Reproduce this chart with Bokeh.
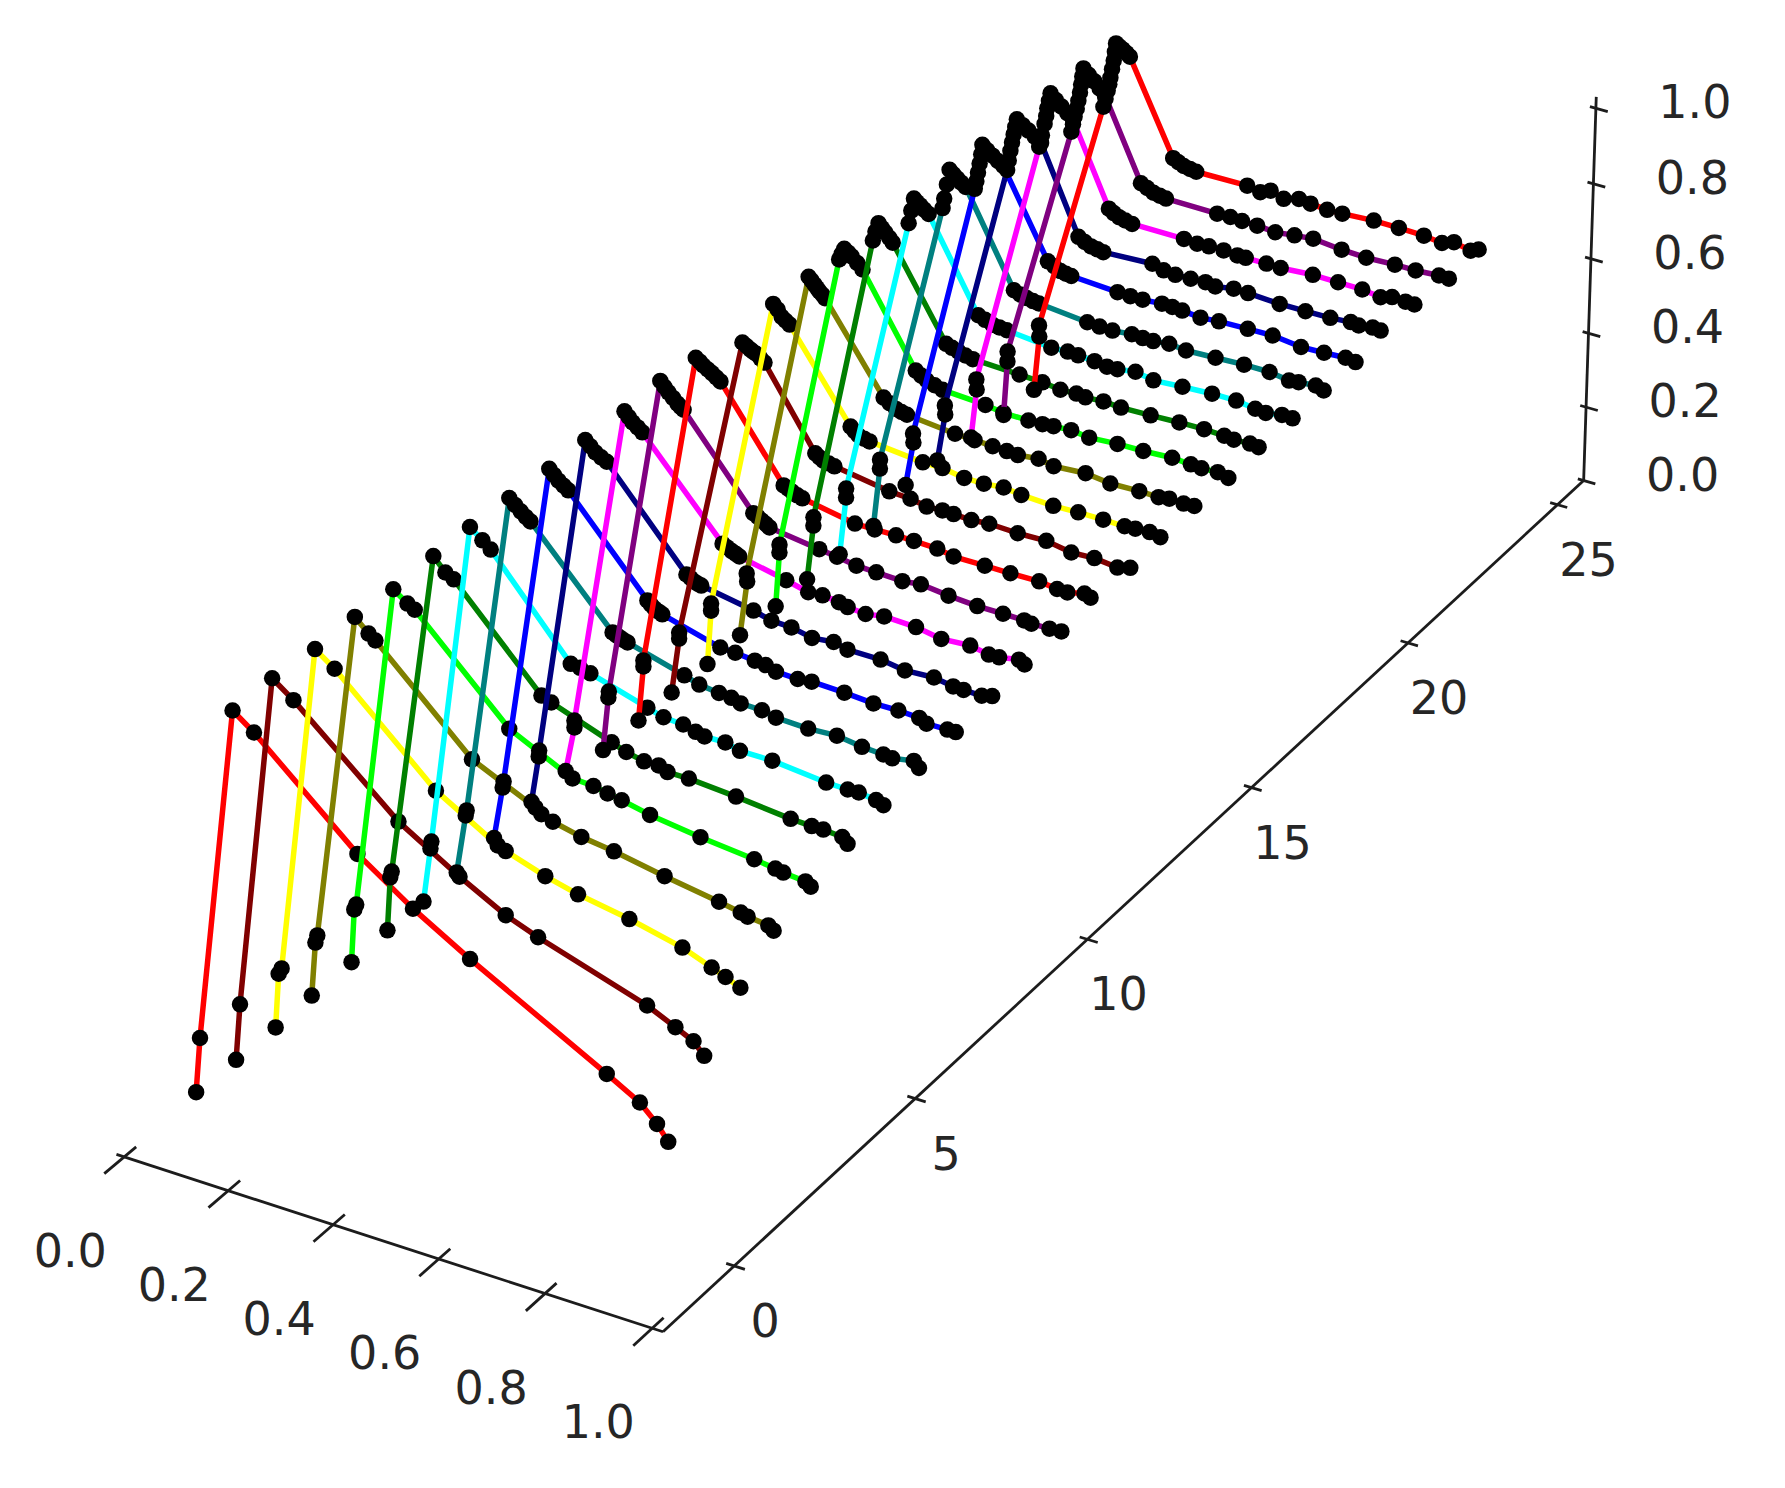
import numpy as np
from bokeh.plotting import figure
from bokeh.models import Range1d
from bokeh.core.properties import value
from bokeh.embed import file_html
from bokeh.resources import INLINE

# Axis ticks and labels
x_ticks = [0.0, 0.2, 0.4, 0.6, 0.8, 1.0]
y_ticks = [0, 5, 10, 15, 20, 25]
z_ticks = [0.0, 0.2, 0.4, 0.6, 0.8, 1.0]
x_labels = ["0.0", "0.2", "0.4", "0.6", "0.8", "1.0"]
y_labels = ["0", "5", "10", "15", "20", "25"]
z_labels = ["0.0", "0.2", "0.4", "0.6", "0.8", "1.0"]
colors = ["#ff0000", "#800000", "#ffff00", "#808000", "#00ff00", "#008000",
          "#00ffff", "#008080", "#0000ff", "#000080", "#ff00ff", "#800080"]

# Series values, in thousandths
x00 = [-6,4,81,121,314,418,525,781,843,875,896]
z00 = [2,144,992,954,733,640,559,380,335,295,259]
x01 = [-4,6,81,121,318,433,520,581,786,839,873,893]
z01 = [2,148,994,956,735,645,585,555,470,438,417,389]
x02 = [-2,6,12,88,125,316,433,448,523,585,682,782,837,863,891]
z02 = [3,144,160,992,958,732,643,635,603,583,561,531,504,491,476]
x03 = [-6,3,7,90,116,129,312,433,444,466,520,582,678,781,822,835,874,884]
z03 = [1,141,161,996,965,953,730,658,646,636,620,609,586,564,554,549,543,534]
x04 = [-2,5,9,90,117,131,311,432,472,499,526,580,676,778,818,833,875,885]
z04 = [7,146,160,989,964,954,728,652,649,641,635,620,603,589,582,578,573,564]
x05 = [-5,2,5,94,117,133,301,320,436,464,498,526,543,584,674,778,818,840,876,886]
z05 = [7,147,163,998,966,955,730,720,666,653,643,644,634,634,625,611,609,609,605,592]
x06 = [-7,8,10,92,116,132,286,304,324,434,465,503,527,544,584,612,674,777,818,839,872,886]
z06 = [0,144,163,995,971,954,727,724,718,675,663,660,651,646,647,637,637,623,622,623,617,610]
x07 = [-14,5,7,96,107,118,128,137,296,303,309,317,325,435,464,502,526,544,585,612,674,729,777,818,835,876,886]
z07 = [-7,149,163,995,982,970,960,952,734,730,727,723,720,680,668,662,659,652,651,643,640,644,635,632,629,639,625]
x08 = [-12,6,8,102,111,120,130,139,293,300,307,315,322,435,464,502,523,543,585,612,675,731,779,819,833,873,889]
z08 = [4,143,160,997,985,974,965,957,738,730,723,718,714,674,672,667,664,655,653,657,654,649,650,647,638,639,639]
x09 = [-9,6,7,101,111,121,132,143,299,307,314,321,328,430,465,504,544,586,613,677,724,780,817,837,872,892]
z09 = [21,146,162,996,984,972,964,957,731,725,719,716,714,690,678,676,665,671,662,662,653,657,649,648,647,654]
x10 = [-12,6,6,107,115,123,133,142,300,309,318,326,333,425,468,496,528,545,580,616,678,727,783,819,839,877,888]
z10 = [22,144,162,998,987,976,967,958,735,729,723,719,715,690,676,679,674,668,664,672,669,658,663,654,655,664,656]
x11 = [-8,3,4,107,115,123,132,141,147,153,291,300,308,316,323,421,456,494,533,584,620,674,730,780,821,835,870,893]
z11 = [1,144,160,1003,991,980,969,958,952,947,735,729,723,717,711,693,687,679,677,674,680,672,667,667,666,663,664,666]
x12 = [-7,3,3,107,115,122,131,139,148,156,282,291,299,309,319,423,462,504,539,585,617,678,728,784,819,839,872,884]
z12 = [2,149,165,990,983,976,969,963,955,948,729,724,719,714,710,685,685,686,685,683,675,675,675,676,670,669,679,673]
x13 = [-10,5,5,130,138,146,152,158,166,174,276,284,292,303,314,423,465,497,528,550,585,620,676,732,781,826,871,896]
z13 = [-2,147,163,966,960,954,950,947,939,931,736,729,723,720,717,694,691,683,685,684,682,686,683,685,674,677,670,679]
x14 = [-7,0,0,122,131,139,147,155,278,286,294,305,316,422,461,504,543,582,617,680,729,778,820,841,869,890]
z14 = [-2,143,162,991,980,964,957,950,733,724,716,712,709,695,695,686,686,691,685,681,683,683,682,684,686,681]
x15 = [-10,4,3,124,130,136,141,146,152,157,276,288,301,312,323,419,458,494,522,544,585,615,678,727,784,822,843,871,892]
z15 = [-2,147,168,991,983,975,968,961,955,948,735,725,715,711,708,695,693,691,689,687,693,685,691,683,685,684,688,686,688]
x16 = [-6,1,1,117,122,127,135,142,153,164,273,284,295,311,327,413,449,499,527,549,584,620,676,727,784,821,842,874,895]
z16 = [1,148,169,963,979,994,987,980,967,954,732,723,715,708,702,695,688,687,688,691,694,688,693,694,698,695,693,695,688]
x17 = [-10,2,2,117,122,128,135,142,150,157,267,279,292,306,321,415,461,497,529,547,583,618,677,734,783,823,842,874,891]
z17 = [-3,146,168,942,967,991,981,972,961,951,728,722,717,712,708,703,700,694,696,693,696,693,695,698,699,697,694,696,693]
x18 = [-11,1,1,122,127,132,138,145,153,162,265,279,294,308,323,413,446,467,500,525,546,582,618,676,735,783,821,842,874,895]
z18 = [-11,147,171,919,954,987,980,974,966,958,731,724,717,715,713,701,703,701,698,693,694,701,692,697,701,701,694,691,698,697]
x19 = [-9,3,3,124,127,132,137,145,153,161,170,271,284,297,310,322,420,445,471,510,532,553,585,619,678,735,786,825,844,878,894]
z19 = [-8,152,176,890,916,955,995,986,978,970,962,728,722,717,714,712,699,697,696,701,699,699,704,699,702,705,705,697,700,704,697]
x20 = [-10,5,4,123,126,129,132,135,137,147,158,169,180,274,287,300,311,322,416,442,467,506,527,547,584,621,679,729,786,832,875,895]
z20 = [29,150,174,871,892,916,941,966,992,981,971,961,952,735,727,719,716,714,706,705,705,709,708,706,701,705,707,708,699,701,704,700]
x21 = [-11,4,3,123,126,129,132,135,138,141,153,165,178,191,271,284,297,310,322,422,445,469,500,530,550,587,616,680,732,782,823,839,867,883]
z21 = [22,153,177,852,878,905,928,950,971,992,981,971,960,948,729,720,713,710,707,713,704,701,702,704,700,708,707,702,702,703,707,704,709,707]
x22 = [-7,3,2,123,128,133,136,138,141,144,155,167,179,191,268,278,289,302,316,422,449,473,503,531,548,590,619,684,735,784,821,844,871,889]
z22 = [13,148,175,845,877,909,931,952,973,994,980,967,954,940,733,725,718,714,710,709,706,708,708,705,705,705,704,710,709,708,701,710,708,707]
x23 = [-5,1,1,124,127,130,134,137,140,142,144,146,157,169,180,191,269,282,295,308,321,426,453,477,508,545,584,622,680,730,788,830,877,897]
z23 = [3,152,179,817,838,860,882,904,927,949,971,993,980,967,952,938,732,724,716,713,710,708,709,707,706,702,708,713,705,702,705,705,709,708]
x24 = [-7,2,1,125,129,133,136,138,141,144,146,148,155,162,170,177,271,282,293,306,319,424,451,472,499,530,554,588,619,683,734,785,822,846,880,896]
z24 = [-1,149,179,816,839,862,880,898,922,946,970,993,987,982,975,968,731,724,718,715,712,713,705,717,705,716,712,708,709,714,713,711,705,716,706,715]

series_x = [x00,x01,x02,x03,x04,x05,x06,x07,x08,x09,x10,x11,x12,x13,x14,x15,x16,x17,x18,x19,x20,x21,x22,x23,x24]
series_z = [z00,z01,z02,z03,z04,z05,z06,z07,z08,z09,z10,z11,z12,z13,z14,z15,z16,z17,z18,z19,z20,z21,z22,z23,z24]

# Camera: fitted from where the box edges and ticks sit on the canvas
YMIN, YMAX, XMAX = -1.9, 25.9, 1.02
A = [((0,YMIN,0),(126.3,1153.3)),((.2,YMIN,0),(228.2,1187.3)),((.4,YMIN,0),(335.2,1222.7)),((.6,YMIN,0),(439.8,1257.3)),((.8,YMIN,0),(546.4,1291.7)),((1,YMIN,0),(656.6,1327.7)),
((1.02,YMIN,0),(667,1332)),((1.02,0,0),(734,1269)),((1.02,5,0),(911,1102)),((1.02,10,0),(1087,943)),((1.02,15,0),(1250,791)),((1.02,20,0),(1412,644)),((1.02,25,0),(1562,503)),
((1.02,YMAX,0),(1583.3,479.3)),((1.02,YMAX,.2),(1586,406)),((1.02,YMAX,.4),(1588.3,331.7)),((1.02,YMAX,.6),(1590,256.7)),((1.02,YMAX,.8),(1592.7,181)),((1.02,YMAX,1),(1593.3,105)),
((0,0,0),(195.7,1091.8)),((0,6,0),(423.2,901.2)),((0,12,0),(638.2,720)),((0,18,0),(839.3,553.9)),((0,24,0),(1033.2,389.3)),((.1,0,1),(232.1,710.2)),((.1,24,1),(1115.4,43))]
M = []; b = []
for (x,y,z),(u,v) in A:
    M.append([x,y,z,1,0,0,0,0,-u*x,-u*y,-u*z]); b.append(u)
    M.append([0,0,0,0,x,y,z,1,-v*x,-v*y,-v*z]); b.append(v)
sol = np.linalg.lstsq(np.array(M,float), np.array(b,float), rcond=None)[0]
P = np.append(sol,1).reshape(3,4)

def proj(x, y, z):
    x, y, z = np.broadcast_arrays(np.asarray(x,float), np.asarray(y,float), np.asarray(z,float))
    h = P @ np.vstack([x.ravel(), y.ravel(), z.ravel(), np.ones(x.size)])
    return h[0]/h[2], h[1]/h[2]

W, H = 1769, 1470
p = figure(width=W, height=H, x_range=Range1d(0, W), y_range=Range1d(H, 0),
           output_backend="svg", toolbar_location=None, min_border=0,
           x_axis_type=None, y_axis_type=None, outline_line_color=None)
p.grid.visible = False

for k, (xs, zs) in enumerate(zip(series_x, series_z)):
    u, v = proj(np.array(xs)/1000, k, np.array(zs)/1000)
    p.line(u, v, line_color=colors[k % 12], line_width=5.5, line_join="round")
    p.scatter(u, v, size=16.5, fill_color="black", line_color=None)

AX = "#1c1c1c"
def seg(a, b):
    u, v = proj([a[0], b[0]], [a[1], b[1]], [a[2], b[2]])
    p.line(u, v, line_color=AX, line_width=2.8)
def zx(t):
    return XMAX - 0.011*t   # the vertical edge leans a touch less than the camera fit
seg((-0.015,YMIN,0), (XMAX,YMIN,0))
seg((XMAX,YMIN,0), (XMAX,YMAX,0))
seg((zx(0),YMAX,0), (zx(1.03),YMAX,1.03))
for t in x_ticks:
    seg((t,YMIN-0.5,0), (t,YMIN+0.3,0))
for t in y_ticks:
    seg((XMAX-0.015,t,0), (XMAX+0.02,t,0))
for t in z_ticks:
    seg((zx(t)-0.012,YMAX,t), (zx(t)+0.024,YMAX,t))

def labels(u, v, txt, dx, dy):
    p.text(u, v, text=txt, x_offset=dx, y_offset=dy, text_align="center", text_baseline="middle",
           text_font=value("DejaVu Sans"), text_font_size="46px", text_color="#262626")
u, v = proj(x_ticks, YMIN, 0); labels(u, v, x_labels, -54, 93)
u, v = proj(XMAX, y_ticks, 0); labels(u, v, y_labels, 31, 54)
u, v = proj(zx(np.array(z_ticks)), YMAX, z_ticks); labels(u, v, z_labels, 99, -7)

open("out.html", "w").write(file_html(p, INLINE))
